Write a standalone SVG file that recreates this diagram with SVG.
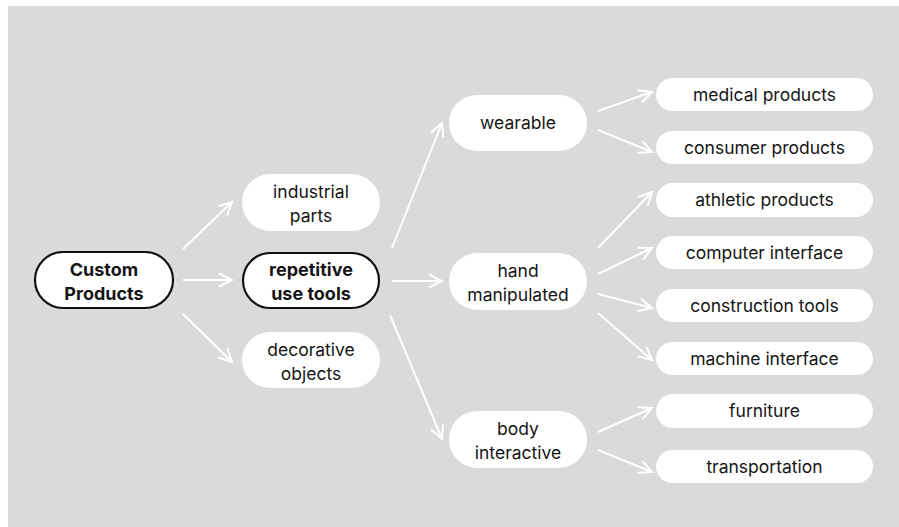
<svg xmlns="http://www.w3.org/2000/svg" width="899" height="527" viewBox="0 0 899 527">
<style>
.n{fill:#ffffff;stroke:none}
.b{fill:#ffffff;stroke:#111111;stroke-width:2.2}
.t{font-family:Inter,"Liberation Sans",sans-serif;font-size:17.5px;fill:#151515;text-anchor:middle}
.bt{font-weight:700;font-size:18px}
.c{stroke:#ffffff;stroke-width:2;fill:none;marker-end:url(#ah)}
</style>
<defs>
<marker id="ah" viewBox="0 0 16 16" refX="14" refY="8" markerWidth="16" markerHeight="16" markerUnits="userSpaceOnUse" orient="auto">
<path d="M1,1.5 L14,8 L1,14.5" fill="none" stroke="#ffffff" stroke-width="2" stroke-linejoin="miter"/>
</marker>
</defs>
<rect x="8" y="6" width="891" height="521" fill="#dadada"/>
<g id="connectors">
<line class="c" x1="183" y1="249" x2="232" y2="202"/>
<line class="c" x1="183" y1="280" x2="232" y2="280"/>
<line class="c" x1="183" y1="314" x2="232" y2="362"/>
<line class="c" x1="392" y1="248" x2="442" y2="123"/>
<line class="c" x1="392" y1="281" x2="442" y2="281"/>
<line class="c" x1="390" y1="315" x2="442" y2="439"/>
<line class="c" x1="598" y1="111" x2="652" y2="92"/>
<line class="c" x1="598" y1="130" x2="652" y2="152"/>
<line class="c" x1="598" y1="248" x2="652" y2="192"/>
<line class="c" x1="598" y1="274" x2="652" y2="248"/>
<line class="c" x1="598" y1="294" x2="652" y2="308"/>
<line class="c" x1="598" y1="313" x2="652" y2="360"/>
<line class="c" x1="598" y1="432" x2="652" y2="408"/>
<line class="c" x1="598" y1="450" x2="652" y2="472"/>
</g>
<g id="custom-products">
<rect class="b" x="35" y="252" width="138" height="56" rx="28"/>
<text class="t bt" x="104" y="276">Custom</text>
<text class="t bt" x="104" y="299.5">Products</text>
</g>
<g id="industrial-parts">
<rect class="n" x="242" y="174" width="138" height="57" rx="28.5"/>
<text class="t" x="311" y="198">industrial</text>
<text class="t" x="311" y="221.5">parts</text>
</g>
<g id="repetitive-use-tools">
<rect class="b" x="243" y="253" width="136" height="55" rx="27.5"/>
<text class="t bt" x="311" y="276">repetitive</text>
<text class="t bt" x="311" y="299.5">use tools</text>
</g>
<g id="decorative-objects">
<rect class="n" x="242" y="332" width="138" height="56" rx="28"/>
<text class="t" x="311" y="356">decorative</text>
<text class="t" x="311" y="379.5">objects</text>
</g>
<g id="wearable">
<rect class="n" x="449" y="95" width="138" height="56" rx="28"/>
<text class="t" x="518" y="129">wearable</text>
</g>
<g id="hand-manipulated">
<rect class="n" x="449" y="253" width="138" height="57" rx="28.5"/>
<text class="t" x="518" y="277">hand</text>
<text class="t" x="518" y="300.5">manipulated</text>
</g>
<g id="body-interactive">
<rect class="n" x="449" y="411" width="138" height="57" rx="28.5"/>
<text class="t" x="518" y="435">body</text>
<text class="t" x="518" y="458.5">interactive</text>
</g>
<g id="medical-products">
<rect class="n" x="656" y="78" width="217" height="33" rx="16.5"/>
<text class="t" x="764.5" y="100.5">medical products</text>
</g>
<g id="consumer-products">
<rect class="n" x="656" y="131" width="217" height="33" rx="16.5"/>
<text class="t" x="764.5" y="153.5">consumer products</text>
</g>
<g id="athletic-products">
<rect class="n" x="656" y="183" width="217" height="34" rx="17"/>
<text class="t" x="764.5" y="206">athletic products</text>
</g>
<g id="computer-interface">
<rect class="n" x="656" y="236" width="217" height="33" rx="16.5"/>
<text class="t" x="764.5" y="258.5">computer interface</text>
</g>
<g id="construction-tools">
<rect class="n" x="656" y="289" width="217" height="33" rx="16.5"/>
<text class="t" x="764.5" y="311.5">construction tools</text>
</g>
<g id="machine-interface">
<rect class="n" x="656" y="342" width="217" height="33" rx="16.5"/>
<text class="t" x="764.5" y="364.5">machine interface</text>
</g>
<g id="furniture">
<rect class="n" x="656" y="394" width="217" height="34" rx="17"/>
<text class="t" x="764.5" y="417">furniture</text>
</g>
<g id="transportation">
<rect class="n" x="656" y="450" width="217" height="33" rx="16.5"/>
<text class="t" x="764.5" y="472.5">transportation</text>
</g>
</svg>
